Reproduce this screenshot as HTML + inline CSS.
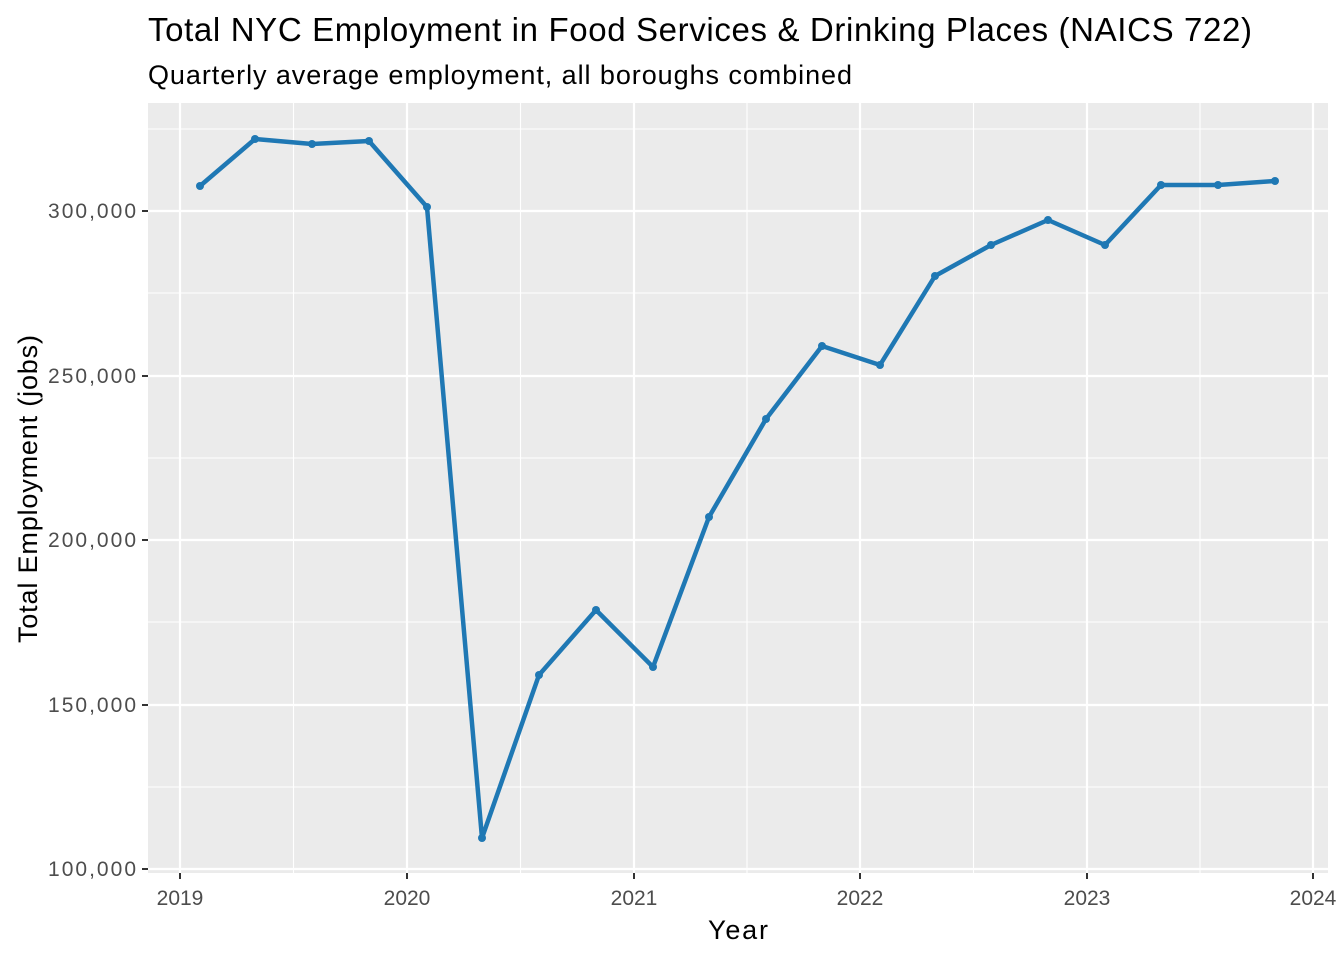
<!DOCTYPE html>
<html><head><meta charset="utf-8"><style>body{margin:0;background:#fff}</style></head><body>
<svg width="1344" height="960" xmlns="http://www.w3.org/2000/svg" font-family="Liberation Sans, Arial, sans-serif">
<rect width="1344" height="960" fill="#fff"/>
<rect x="148" y="103" width="1180" height="770" fill="#ebebeb"/>
<g stroke="#fff" stroke-width="1.1">
<line x1="148" x2="1328" y1="129" y2="129"/><line x1="148" x2="1328" y1="293" y2="293"/><line x1="148" x2="1328" y1="458" y2="458"/><line x1="148" x2="1328" y1="622" y2="622"/><line x1="148" x2="1328" y1="787" y2="787"/>
<line y1="103" y2="873" x1="293.5" x2="293.5"/><line y1="103" y2="873" x1="520.5" x2="520.5"/><line y1="103" y2="873" x1="747" x2="747"/><line y1="103" y2="873" x1="973.5" x2="973.5"/><line y1="103" y2="873" x1="1200" x2="1200"/>
</g>
<g stroke="#fff" stroke-width="2.2">
<line x1="148" x2="1328" y1="211" y2="211"/><line x1="148" x2="1328" y1="376" y2="376"/><line x1="148" x2="1328" y1="540" y2="540"/><line x1="148" x2="1328" y1="705" y2="705"/><line x1="148" x2="1328" y1="869" y2="869"/>
<line y1="103" y2="873" x1="180" x2="180"/><line y1="103" y2="873" x1="407" x2="407"/><line y1="103" y2="873" x1="634" x2="634"/><line y1="103" y2="873" x1="860" x2="860"/><line y1="103" y2="873" x1="1087" x2="1087"/><line y1="103" y2="873" x1="1313" x2="1313"/>
</g>
<polyline fill="none" stroke="#1f78b4" stroke-width="4.5" stroke-linejoin="round" points="200,186 255,139 312,144 369,141 427,207 482,838 539,675 596,610 653,667 709,517 766,419 822,346 880,365 935,276 991,245 1048,220 1105,245 1161,185 1218,185 1275,181"/>
<g fill="#1f78b4">
<circle cx="200" cy="186" r="4"/><circle cx="255" cy="139" r="4"/><circle cx="312" cy="144" r="4"/><circle cx="369" cy="141" r="4"/><circle cx="427" cy="207" r="4"/><circle cx="482" cy="838" r="4"/><circle cx="539" cy="675" r="4"/><circle cx="596" cy="610" r="4"/><circle cx="653" cy="667" r="4"/><circle cx="709" cy="517" r="4"/><circle cx="766" cy="419" r="4"/><circle cx="822" cy="346" r="4"/><circle cx="880" cy="365" r="4"/><circle cx="935" cy="276" r="4"/><circle cx="991" cy="245" r="4"/><circle cx="1048" cy="220" r="4"/><circle cx="1105" cy="245" r="4"/><circle cx="1161" cy="185" r="4"/><circle cx="1218" cy="185" r="4"/><circle cx="1275" cy="181" r="4"/>
</g>
<g stroke="#333" stroke-width="2"><line x1="142" x2="148" y1="211" y2="211"/><line x1="142" x2="148" y1="376" y2="376"/><line x1="142" x2="148" y1="540" y2="540"/><line x1="142" x2="148" y1="705" y2="705"/><line x1="142" x2="148" y1="869" y2="869"/>
<line y1="873" y2="879" x1="180" x2="180"/><line y1="873" y2="879" x1="407" x2="407"/><line y1="873" y2="879" x1="634" x2="634"/><line y1="873" y2="879" x1="860" x2="860"/><line y1="873" y2="879" x1="1087" x2="1087"/><line y1="873" y2="879" x1="1313" x2="1313"/></g>
<g fill="#4d4d4d" font-size="21" text-anchor="end"><text x="136" y="218" textLength="88">300,000</text><text x="136" y="383" textLength="88">250,000</text><text x="136" y="547" textLength="88">200,000</text><text x="136" y="712" textLength="88">150,000</text><text x="136" y="876" textLength="88">100,000</text></g>
<g fill="#4d4d4d" font-size="21" text-anchor="middle"><text x="180" y="905">2019</text><text x="407" y="905">2020</text><text x="634" y="905">2021</text><text x="860" y="905">2022</text><text x="1087" y="905">2023</text><text x="1313" y="905">2024</text></g>
<text x="708" y="939" font-size="27" textLength="60">Year</text>
<text transform="translate(37,643) rotate(-90)" font-size="27" textLength="308">Total Employment (jobs)</text>
<text x="148" y="41" font-size="33" textLength="1104">Total NYC Employment in Food Services &amp; Drinking Places (NAICS 722)</text>
<text x="148" y="84" font-size="27" textLength="704">Quarterly average employment, all boroughs combined</text>
</svg>
</body></html>
